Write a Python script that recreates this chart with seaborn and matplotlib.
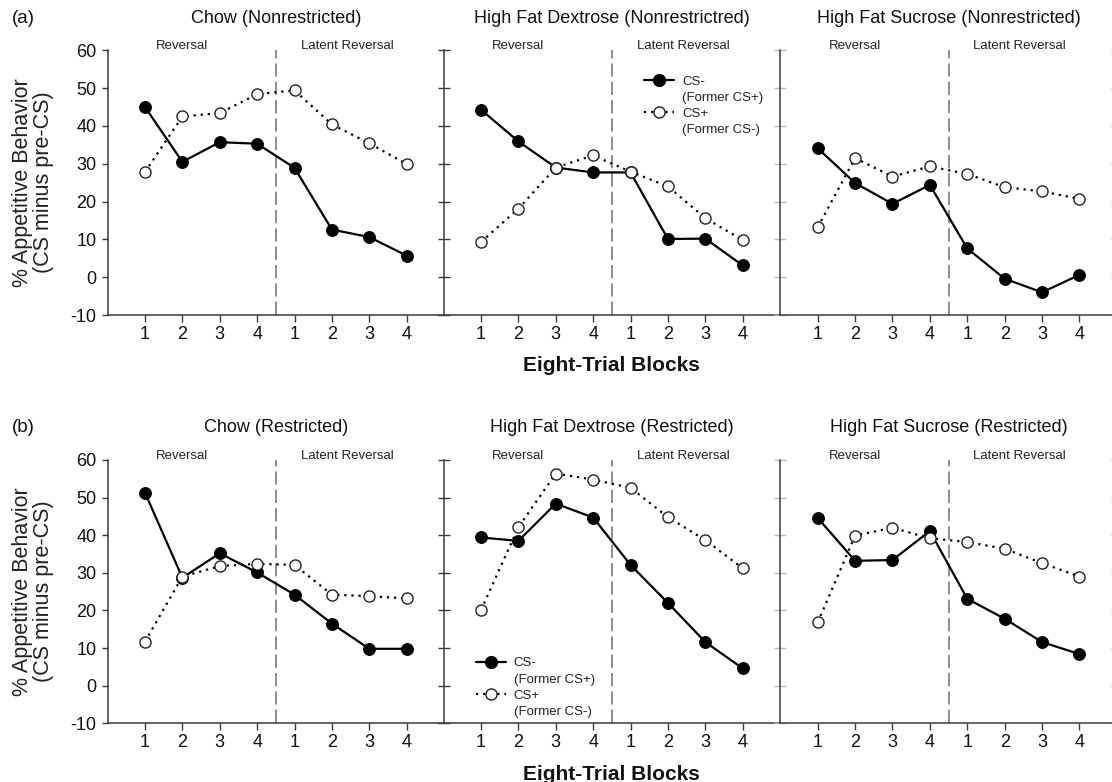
import numpy as np
import pandas as pd
import matplotlib
matplotlib.use("Agg")
import matplotlib.pyplot as plt
import seaborn as sns
from matplotlib.lines import Line2D

sns.set_style("ticks")
plt.rcParams['font.family'] = ['Liberation Sans', 'DejaVu Sans']
plt.rcParams['axes.unicode_minus'] = False

# ---------------- data ----------------
block_labels = ['1', '2', '3', '4', '1', '2', '3', '4']
phase_labels = ['Reversal', 'Latent Reversal']
row_tags = ['(a)', '(b)']
titles_a = ['Chow (Nonrestricted)', 'High Fat Dextrose (Nonrestrictred)', 'High Fat Sucrose (Nonrestricted)']
titles_b = ['Chow (Restricted)', 'High Fat Dextrose (Restricted)', 'High Fat Sucrose (Restricted)']
series_names = ['CS-', 'CS+']
series_sub = ['(Former CS+)', '(Former CS-)']

a_chow_minus = [45.0, 30.5, 35.7, 35.3, 28.9, 12.6, 10.6, 5.7]
a_chow_plus = [27.8, 42.5, 43.4, 48.4, 49.4, 40.4, 35.4, 29.9]
a_hfd_minus = [44.3, 35.9, 29.0, 27.7, 27.7, 10.1, 10.2, 3.1]
a_hfd_plus = [9.3, 18.1, 29.0, 32.2, 27.9, 24.0, 15.6, 9.8]
a_hfs_minus = [34.1, 24.9, 19.4, 24.4, 7.6, -0.4, -4.0, 0.6]
a_hfs_plus = [13.2, 31.5, 26.6, 29.3, 27.3, 23.8, 22.7, 20.7]

b_chow_minus = [51.3, 28.7, 35.2, 30.1, 24.2, 16.5, 9.8, 9.8]
b_chow_plus = [11.7, 29.0, 31.8, 32.4, 32.1, 24.2, 23.8, 23.2]
b_hfd_minus = [39.4, 38.5, 48.4, 44.7, 32.1, 22.0, 11.6, 4.6]
b_hfd_plus = [20.1, 42.1, 56.4, 54.8, 52.6, 44.8, 38.7, 31.2]
b_hfs_minus = [44.6, 33.2, 33.4, 41.1, 23.1, 17.8, 11.6, 8.4]
b_hfs_plus = [16.8, 39.9, 42.0, 39.2, 38.2, 36.4, 32.6, 29.0]

rows = [
    (titles_a, [(a_chow_minus, a_chow_plus), (a_hfd_minus, a_hfd_plus), (a_hfs_minus, a_hfs_plus)]),
    (titles_b, [(b_chow_minus, b_chow_plus), (b_hfd_minus, b_hfd_plus), (b_hfs_minus, b_hfs_plus)]),
]

# ---------------- figure ----------------
W, H = 1112, 782
fig = plt.figure(figsize=(W / 100, H / 100), dpi=100)

spine_col = '#3a3a3a'
lefts = [107.6, 443.6, 780.3]
pw = 336.5
row_top_bottom = [(50.3, 315.0), (460.0, 723.3)]

pos = np.arange(1, len(block_labels) + 1)

for r, (titles, pairs) in enumerate(rows):
    top_px, bot_px = row_top_bottom[r]
    for c in range(3):
        ax = fig.add_axes([lefts[c] / W, 1 - bot_px / H, pw / W, (bot_px - top_px) / H])
        ax.patch.set_alpha(0)
        minus, plus = pairs[c]
        df = pd.DataFrame({'pos': np.concatenate([pos, pos]),
                           'val': minus + plus,
                           'series': ['minus'] * 8 + ['plus'] * 8})
        sns.lineplot(data=df[df.series == 'minus'], x='pos', y='val', ax=ax,
                     color='black', lw=1.6, marker='o', markersize=8.5,
                     markerfacecolor='black', markeredgecolor='black', zorder=3)
        sns.lineplot(data=df[df.series == 'plus'], x='pos', y='val', ax=ax,
                     color='black', lw=1.6, linestyle=(0, (1, 2.2)), marker='o',
                     markersize=8, markerfacecolor='white', markeredgecolor='#222222',
                     markeredgewidth=1.0, zorder=4)
        ax.axvline(4.5, color='#7a7a7a', lw=1.2, linestyle=(0, (8, 3)), zorder=1)
        ax.set_xlim(0, 9)
        ax.set_ylim(-10, 60)
        ax.set_xticks(list(pos))
        ax.set_xticklabels(block_labels)
        ax.set_yticks(np.arange(-10, 61, 10))
        ax.set_xlabel('')
        ax.set_ylabel('')
        ax.spines['top'].set_visible(False)
        ax.spines['right'].set_visible(c == 2)
        for s in ['left', 'bottom', 'right']:
            ax.spines[s].set_color(spine_col)
            ax.spines[s].set_linewidth(1.1)
        ax.tick_params(axis='x', direction='out', length=5, width=1, color=spine_col,
                       labelsize=13, pad=3, labelcolor='#111111')
        if c == 0:
            ax.tick_params(axis='y', direction='out', length=4, width=1, color=spine_col,
                           labelsize=13, pad=4, labelcolor='#111111')
        else:
            ax.tick_params(axis='y', direction='inout', length=8, width=1, color=spine_col,
                           labelleft=False)
        if c == 2:
            ax.tick_params(axis='y', right=True, direction='inout', length=8, width=1,
                           color='#bbbbbb')
        ax.text(2.0, 60.3, phase_labels[0], ha='center', va='baseline', fontsize=9.5, color='#222222')
        ax.text(6.4, 60.3, phase_labels[1], ha='center', va='baseline', fontsize=9.5, color='#222222')
        cx = (lefts[c] + pw / 2) / W
        fig.text(cx, 1 - (top_px - 32) / H, titles[c], ha='center', va='center', fontsize=13,
                 color='#111111')

        if c == 1:
            h_minus = Line2D([], [], color='black', lw=1.6, marker='o', markersize=8.5,
                             markerfacecolor='black')
            h_plus = Line2D([], [], color='black', lw=1.6, linestyle=(0, (1, 2.2)), marker='o',
                            markersize=8, markerfacecolor='white', markeredgecolor='#222222')
            h_blank = Line2D([], [], color='none')
            handles = [h_minus, h_blank, h_plus, h_blank]
            labels = [series_names[0], series_sub[0], series_names[1], series_sub[1]]
            if r == 0:
                anchor, loc = (0.595, 0.905), 'upper left'
            else:
                anchor, loc = (0.095, 0.02), 'lower left'
            leg = ax.legend(handles, labels, loc=loc, bbox_to_anchor=anchor, frameon=False,
                            fontsize=9.5, handlelength=2.3, handletextpad=0.6,
                            labelspacing=0.3, borderpad=0, borderaxespad=0)
            for t in leg.get_texts():
                t.set_color('#222222')

    # row tag and shared labels
    fig.text(12 / W, 1 - (top_px - 32) / H, row_tags[r], ha='left', va='center', fontsize=13.5,
             color='#111111')
    fig.text((lefts[1] + pw / 2) / W, 1 - (bot_px + 51) / H, 'Eight-Trial Blocks',
             ha='center', va='center', fontsize=15, fontweight='bold', color='#111111')
    fig.text(33 / W, 1 - ((top_px + bot_px) / 2) / H,
             '% Appetitive Behavior\n(CS minus pre-CS)', rotation=90, ha='center', va='center',
             fontsize=15.5, linespacing=1.0, multialignment='center', color='#222222')

fig.savefig('out.png', dpi=100)
